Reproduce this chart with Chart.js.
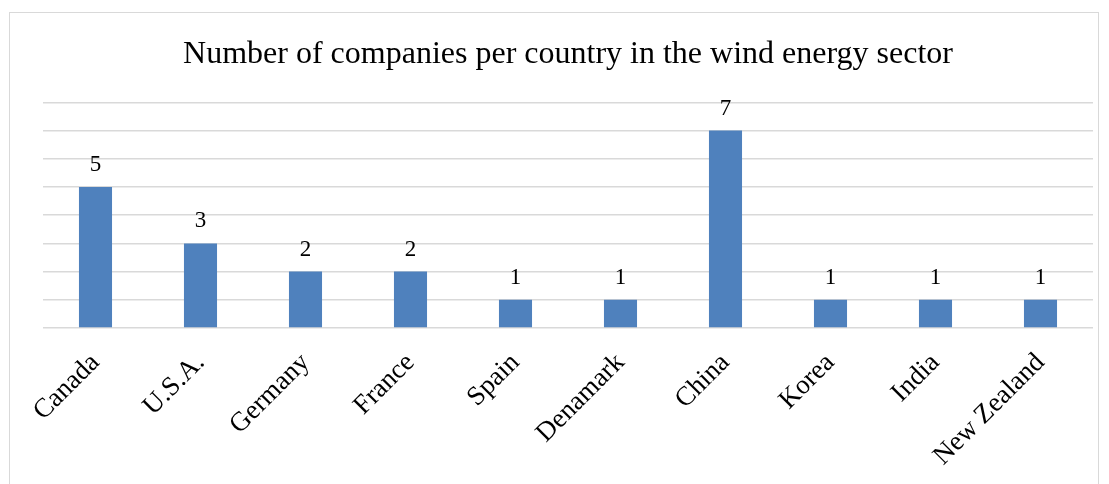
<!DOCTYPE html>
<html>
<head>
<meta charset="utf-8">
<script src="https://cdn.jsdelivr.net/npm/chart.js@4.4.1/dist/chart.umd.min.js"></script>
<style>
  html, body { margin: 0; padding: 0; background: #ffffff; }
  #frame {
    position: absolute; left: 9px; top: 12px; width: 1090px; height: 500px;
    border: 1px solid #d9d9d9; box-sizing: border-box;
  }
  #wrap { position: absolute; left: 0; top: 0; width: 1109px; height: 484px; }
</style>
</head>
<body>
<div id="frame"></div>
<div id="wrap"><canvas id="chart"></canvas></div>
<script>
const countries = ["Canada", "U.S.A.", "Germany", "France", "Spain", "Denamark", "China", "Korea", "India", "New Zealand"];
const companyCounts = [5, 3, 2, 2, 1, 1, 7, 1, 1, 1];
const chartTitle = "Number of companies per country in the wind energy sector";

const serif = "'Liberation Serif', 'Times New Roman', serif";

// Writes each bar's value just above it
const valueLabels = {
  id: 'valueLabels',
  afterDatasetsDraw(chart) {
    const ctx = chart.ctx;
    const meta = chart.getDatasetMeta(0);
    ctx.save();
    ctx.font = "23px " + serif;
    ctx.fillStyle = "#000000";
    ctx.textAlign = "center";
    ctx.textBaseline = "alphabetic";
    meta.data.forEach((bar, i) => {
      ctx.fillText(String(companyCounts[i]), bar.x, bar.y - 16);
    });
    ctx.restore();
  }
};

new Chart(document.getElementById('chart'), {
  type: 'bar',
  data: {
    labels: countries,
    datasets: [{
      data: companyCounts,
      backgroundColor: '#4f81bd',
      borderWidth: 0,
      barPercentage: 0.315,
      categoryPercentage: 1.0
    }]
  },
  options: {
    responsive: true,
    maintainAspectRatio: false,
    animation: false,
    layout: { padding: { left: 43, right: 16, top: 0, bottom: 0 } },
    plugins: {
      legend: { display: false },
      tooltip: { enabled: false },
      title: {
        display: true,
        text: chartTitle,
        color: '#000000',
        font: { family: serif, size: 32, weight: 'normal' },
        padding: { top: 35, bottom: 29 }
      }
    },
    scales: {
      x: {
        grid: { display: false },
        border: { display: false },
        ticks: {
          color: '#000000',
          font: { family: serif, size: 27 },
          maxRotation: 45,
          minRotation: 45,
          autoSkip: false,
          padding: 11
        },
        afterFit(scale) { scale.height = 156; }
      },
      y: {
        min: 0,
        max: 8,
        ticks: { stepSize: 1, display: false },
        grid: { color: '#d9d9d9', lineWidth: 1.5, drawTicks: false },
        border: { display: false },
        afterFit(scale) { scale.width = 0; }
      }
    }
  },
  plugins: [valueLabels]
});
</script>
</body>
</html>
